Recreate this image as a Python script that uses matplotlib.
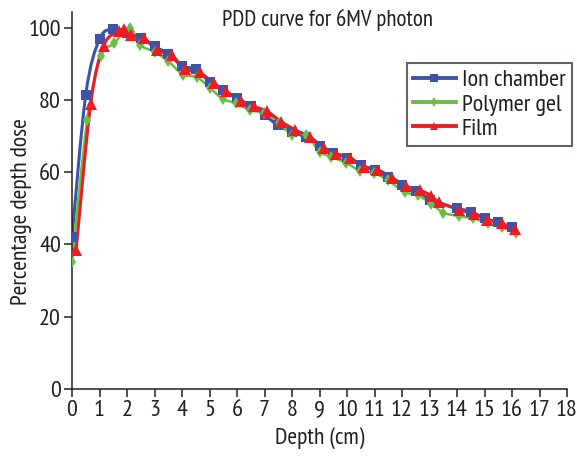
import matplotlib
matplotlib.use("Agg")
import matplotlib.pyplot as plt
import numpy as np
from matplotlib.path import Path
from matplotlib.patches import PathPatch
from matplotlib.lines import Line2D

# ---- data ----
ion_x = [0, 0.5, 1, 1.5, 2, 2.5, 3, 3.5, 4, 4.5, 5, 5.5, 6, 6.5, 7, 7.5, 8, 8.5,
         9, 9.5, 10, 10.5, 11, 11.5, 12, 12.5, 13, 14, 14.5, 15, 15.5, 16]
ion_y = [42, 81.4, 96.8, 99.6, 98.5, 97, 94.8, 92.7, 89.4, 88.4, 85, 82.6, 80.6,
         78.2, 75.8, 72.9, 71.2, 69.6, 67.2, 65.4, 63.9, 62, 60.6, 58.7, 56.4,
         54.7, 52.2, 50, 49.1, 47.3, 46.1, 44.7]

gel_x = [0, 0.55, 1.05, 1.53, 2.1, 2.47, 3.0, 3.5, 4.03, 4.54, 5.03, 5.49, 5.97,
         6.48, 6.99, 7.54, 8.0, 8.51, 9.01, 9.43, 9.96, 10.49, 10.98, 11.49, 12.1,
         12.57, 13.06, 13.5, 14.09, 14.59, 15.13, 15.63, 16.15]
gel_y = [35, 74.4, 92, 95.6, 100, 95.2, 93.3, 90.7, 87, 86.3, 83.2, 80.2, 79.1,
         77.1, 76.4, 73.7, 70.3, 70.3, 65.7, 64.2, 62.6, 60.3, 59.8, 57.7, 54.5,
         53.6, 51.3, 48.8, 47.8, 47.2, 45.8, 44.8, 43.2]

film_x = [0.15, 0.68, 1.15, 1.7, 1.9, 2.15, 2.63, 3.08, 3.63, 4.1, 4.64, 5.15, 5.6,
          6.15, 6.6, 7.1, 7.6, 8.12, 8.64, 9.15, 9.61, 10.12, 10.6, 11.1, 11.63,
          12.15, 12.65, 13.07, 13.33, 14.08, 14.6, 15.1, 15.63, 16.12]
film_y = [38.5, 78.9, 95, 99, 99.5, 98, 97, 93.8, 92.3, 88.5, 87.6, 84.6, 82.4,
          79.6, 78.2, 76.8, 74, 71.7, 69.8, 66.8, 65.1, 64, 61.4, 60.7, 58.5,
          56.1, 55, 53.5, 51.8, 49.6, 48.5, 46.8, 45.8, 44.3]

series_labels = ["Ion chamber", "Polymer gel", "Film"]
x_ticks = list(range(0, 19))
y_ticks = [0, 20, 40, 60, 80, 100]

title = "PDD curve for 6MV photon"
xlabel = "Depth (cm)"
ylabel = "Percentage depth dose"

# ---- style ----
FONT = ["PT Sans Narrow", "DejaVu Sans"]
plt.rcParams["font.family"] = FONT
BLUE = "#3A55A6"
GREEN = "#6BBD45"
RED = "#EC1C24"
AX_COLOR = "#231F20"


def smooth_path(xs, ys):
    """Catmull-Rom style smoothed path (cubic Bezier) through the data points."""
    p = np.column_stack([xs, ys]).astype(float)
    n = len(p)
    verts = [p[0]]
    codes = [Path.MOVETO]
    for i in range(n - 1):
        p0 = p[i - 1] if i > 0 else p[i]
        p1 = p[i]
        p2 = p[i + 1]
        p3 = p[i + 2] if i + 2 < n else p[i + 1]
        c1 = p1 + (p2 - p0) / 6.0
        c2 = p2 - (p3 - p1) / 6.0
        verts += [c1, c2, p2]
        codes += [Path.CURVE4] * 3
    return Path(verts, codes)


fig = plt.figure(figsize=(5.77, 4.58), dpi=100)
ax = fig.add_axes([72 / 577, 1 - 389 / 458, 495 / 577, 377 / 458])

series = [
    (ion_x, ion_y, BLUE, "s", 7.5, 2.2),
    (gel_x, gel_y, GREEN, "d", 6.5, 1.8),
    (film_x, film_y, RED, "^", 8.0, 2.2),
]
handles = []
for (xs, ys, col, mk, ms, lw), lab in zip(series, series_labels):
    ax.add_patch(PathPatch(smooth_path(xs, ys), fill=False, edgecolor=col,
                           lw=lw, zorder=2))
    ax.plot(xs, ys, linestyle="none", marker=mk, markersize=ms,
            color=col, markeredgewidth=0, zorder=3)
    handles.append(Line2D([], [], color=col, lw=2.8, marker=mk,
                          markersize=ms * 0.75, markeredgewidth=0))

ax.set_xlim(0, 18)
ax.set_ylim(0, 104.3)
ax.set_xticks(x_ticks)
ax.set_yticks(y_ticks)
for s in ["top", "right"]:
    ax.spines[s].set_visible(False)
for s in ["left", "bottom"]:
    ax.spines[s].set_color(AX_COLOR)
    ax.spines[s].set_linewidth(1.1)
ax.tick_params(axis="both", direction="out", length=6, width=1.1,
               color=AX_COLOR, labelcolor=AX_COLOR, labelsize=17.5, pad=2)

ax.set_xlabel(xlabel, fontsize=17, color=AX_COLOR, labelpad=4)
ax.set_ylabel(ylabel, fontsize=17, color=AX_COLOR, va="center", ha="center")
ax.yaxis.set_label_coords((22 - 72) / 495, 0.47)

fig.text(327 / 577, 1 - 20 / 458, title, fontsize=16.5, color=AX_COLOR,
         ha="center", va="center")

leg = fig.legend(handles, series_labels, loc="upper left",
                 bbox_to_anchor=(407 / 577, 1 - 63 / 458),
                 bbox_transform=fig.transFigure, frameon=True, fancybox=False,
                 fontsize=17.5, handlelength=1.75, handletextpad=0.25,
                 labelspacing=0.1, borderpad=0.25, borderaxespad=0)
leg.get_frame().set_edgecolor("#4A3838")
leg.get_frame().set_linewidth(1.5)
for t in leg.get_texts():
    t.set_color(AX_COLOR)

fig.savefig("out.png", dpi=100)
